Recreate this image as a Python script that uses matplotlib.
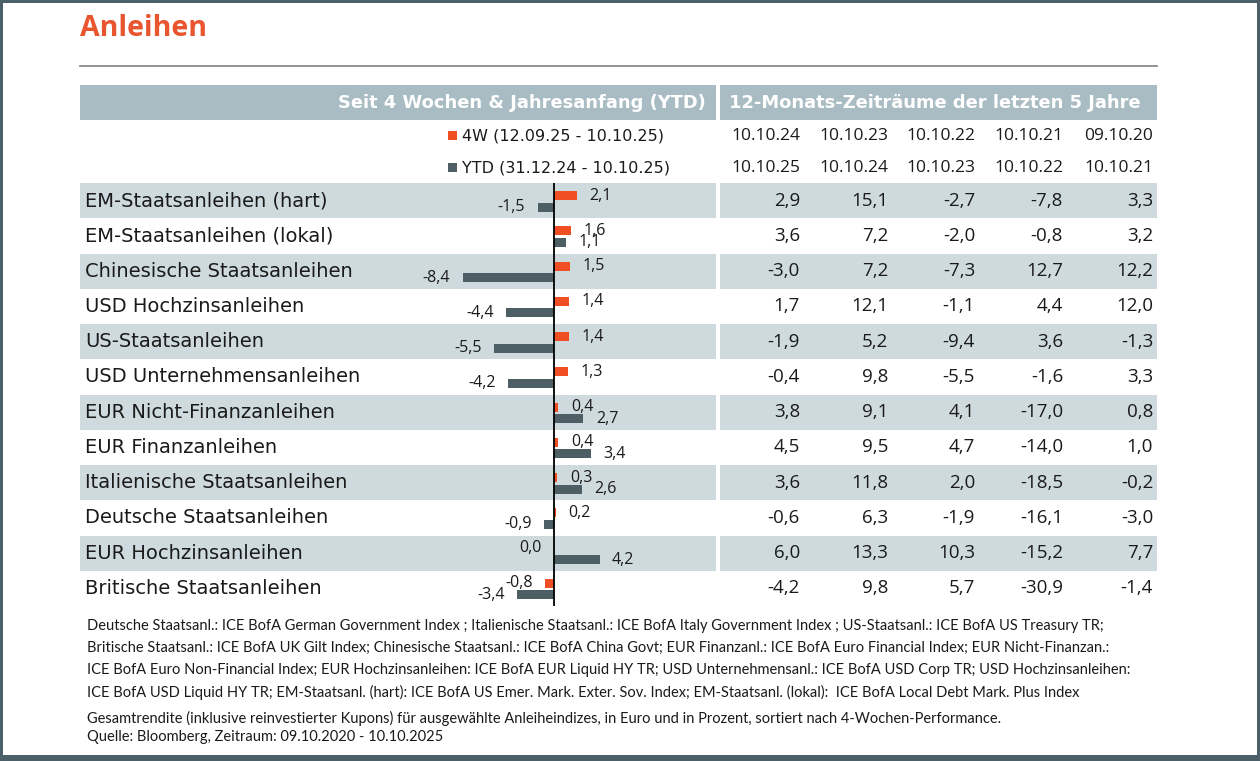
import matplotlib
matplotlib.use("Agg")
import matplotlib.pyplot as plt
from matplotlib.patches import Rectangle

# ---------------- data ----------------
categories = ["EM-Staatsanleihen (hart)", "EM-Staatsanleihen (lokal)",
              "Chinesische Staatsanleihen", "USD Hochzinsanleihen",
              "US-Staatsanleihen", "USD Unternehmensanleihen",
              "EUR Nicht-Finanzanleihen", "EUR Finanzanleihen",
              "Italienische Staatsanleihen", "Deutsche Staatsanleihen",
              "EUR Hochzinsanleihen", "Britische Staatsanleihen"]
w4 = [2.1, 1.6, 1.5, 1.4, 1.4, 1.3, 0.4, 0.4, 0.3, 0.2, 0.0, -0.8]
ytd = [-1.5, 1.1, -8.4, -4.4, -5.5, -4.2, 2.7, 3.4, 2.6, -0.9, 4.2, -3.4]
period_start = ["10.10.24", "10.10.23", "10.10.22", "10.10.21", "09.10.20"]
period_end = ["10.10.25", "10.10.24", "10.10.23", "10.10.22", "10.10.21"]
p1 = [2.9, 3.6, -3.0, 1.7, -1.9, -0.4, 3.8, 4.5, 3.6, -0.6, 6.0, -4.2]
p2 = [15.1, 7.2, 7.2, 12.1, 5.2, 9.8, 9.1, 9.5, 11.8, 6.3, 13.3, 9.8]
p3 = [-2.7, -2.0, -7.3, -1.1, -9.4, -5.5, 4.1, 4.7, 2.0, -1.9, 10.3, 5.7]
p4 = [-7.8, -0.8, 12.7, 4.4, 3.6, -1.6, -17.0, -14.0, -18.5, -16.1, -15.2, -30.9]
p5 = [3.3, 3.2, 12.2, 12.0, -1.3, 3.3, 0.8, 1.0, -0.2, -3.0, 7.7, -1.4]
periods = [p1, p2, p3, p4, p5]
legend_4w = "4W (12.09.25 - 10.10.25)"
legend_ytd = "YTD (31.12.24 - 10.10.25)"
title = "Anleihen"
header_left = "Seit 4 Wochen & Jahresanfang (YTD)"
header_right = "12-Monats-Zeiträume der letzten 5 Jahre"
footnotes = [
    "Deutsche Staatsanl.: ICE BofA German Government Index ; Italienische Staatsanl.: ICE BofA Italy Government Index ; US-Staatsanl.: ICE BofA US Treasury TR;",
    "Britische Staatsanl.: ICE BofA UK Gilt Index; Chinesische Staatsanl.: ICE BofA China Govt; EUR Finanzanl.: ICE BofA Euro Financial Index; EUR Nicht-Finanzan.:",
    "ICE BofA Euro Non-Financial Index; EUR Hochzinsanleihen: ICE BofA EUR Liquid HY TR; USD Unternehmensanl.: ICE BofA USD Corp TR; USD Hochzinsanleihen:",
    "ICE BofA USD Liquid HY TR; EM-Staatsanl. (hart): ICE BofA US Emer. Mark. Exter. Sov. Index; EM-Staatsanl. (lokal):  ICE BofA Local Debt Mark. Plus Index",
]
note1 = "Gesamtrendite (inklusive reinvestierter Kupons) für ausgewählte Anleiheindizes, in Euro und in Prozent, sortiert nach 4-Wochen-Performance."
note2 = "Quelle: Bloomberg, Zeitraum: 09.10.2020 - 10.10.2025"

# ---------------- style ----------------
W, H = 1260, 761
ORANGE = "#f04e23"
TITLE_C = "#e8552f"
SLATE = "#4d5e65"
BORDER = "#4b6069"
HEAD_BG = "#a9bcc3"
ROW_BG = "#cfdadf"
TXT = "#1a1a1a"
LBL = "DejaVu Sans"
NUM = "Open Sans"
FOOT = "Lato"

fig = plt.figure(figsize=(W / 100, H / 100), dpi=100)
fig.patch.set_facecolor(BORDER)
ax = fig.add_axes([0, 0, 1, 1])
ax.set_xlim(0, W)
ax.set_ylim(H, 0)
ax.axis("off")

ax.add_patch(Rectangle((3, 3), W - 6, 752, facecolor="white", edgecolor="none", zorder=0))

# title & rule
ax.text(80, 29, title, color=TITLE_C, fontsize=20.5, fontweight="bold",
        family=NUM, va="center", ha="left")
ax.plot([80, 1157], [66, 66], color="#8a8a8a", lw=1.3)

# header
L0, L1, R0, R1 = 80, 716, 720, 1157
ax.add_patch(Rectangle((L0, 85), L1 - L0, 35, facecolor=HEAD_BG, edgecolor="none", zorder=1))
ax.add_patch(Rectangle((R0, 85), R1 - R0, 35, facecolor=HEAD_BG, edgecolor="none", zorder=1))
ax.text(706, 103, header_left, color="white", fontsize=12.9, fontweight="bold",
        family=LBL, ha="right", va="center", zorder=2)
ax.text(729, 103, header_right, color="white", fontsize=12.9, fontweight="bold",
        family=LBL, ha="left", va="center", zorder=2)

# legend
ax.add_patch(Rectangle((448, 131), 9, 9, facecolor=ORANGE, edgecolor="none"))
ax.add_patch(Rectangle((448, 163), 9, 9, facecolor=SLATE, edgecolor="none"))
ax.text(462, 136, legend_4w, fontsize=11.5, family=LBL, color=TXT, va="center", ha="left")
ax.text(462, 168, legend_ytd, fontsize=11.5, family=LBL, color=TXT, va="center", ha="left")

col_right = [800, 888, 975, 1063, 1153]
for x, s, e in zip(col_right, period_start, period_end):
    ax.text(x, 136, s, fontsize=12.5, family=NUM, color=TXT, va="center", ha="right")
    ax.text(x, 168, e, fontsize=12.5, family=NUM, color=TXT, va="center", ha="right")

# rows
TOP = 183
RH = 35.25
n = len(categories)


def fmt(v):
    return f"{v:.1f}".replace(".", ",")


for i, cat in enumerate(categories):
    y0 = TOP + i * RH
    yc = y0 + RH / 2
    if i % 2 == 0:
        ax.add_patch(Rectangle((L0, y0), L1 - L0, RH, facecolor=ROW_BG, edgecolor="none", zorder=1))
        ax.add_patch(Rectangle((R0, y0), R1 - R0, RH, facecolor=ROW_BG, edgecolor="none", zorder=1))
    ax.text(85, yc, cat, fontsize=14, family=LBL, color=TXT, va="center", ha="left", zorder=2)
    for x, vals in zip(col_right, periods):
        ax.text(x, yc, fmt(vals[i]), fontsize=13.5, family=NUM, color=TXT,
                va="center", ha="right", zorder=2)

# bar axes
ZERO = 554
PX = 10.85
bx_left, bx_right = 420, 716
bx = fig.add_axes([bx_left / W, 1 - (TOP + n * RH) / H, (bx_right - bx_left) / W, n * RH / H])
bx.set_xlim((bx_left - ZERO) / PX, (bx_right - ZERO) / PX)
bx.set_ylim(n, 0)
bx.patch.set_alpha(0)
bx.axis("off")

rows = [i + 0.5 for i in range(n)]
off4 = -5 / RH
offy = 6.5 / RH
bh = 9 / RH
bx.barh([r + off4 for r in rows], w4, height=bh, color=ORANGE, zorder=3)
bx.barh([r + offy for r in rows], ytd, height=bh, color=SLATE, zorder=3)
bx.axvline(0, ymin=0, ymax=1, color="black", lw=1.3, zorder=4)


def label(v, y):
    if v > 0:
        bx.annotate(fmt(v), (v, y), xytext=(9, 0), textcoords="offset points",
                    ha="left", va="center", fontsize=11.5, family=NUM, color=TXT)
    else:
        bx.annotate(fmt(v), (v, y), xytext=(-9, 0), textcoords="offset points",
                    ha="right", va="center", fontsize=11.5, family=NUM, color=TXT)


for r, v in zip(rows, w4):
    label(v, r + off4)
for r, v in zip(rows, ytd):
    label(v, r + offy)

# footnotes
for k, line in enumerate(footnotes):
    ax.text(87, 626 + 22 * k, line, fontsize=10.5, family=FOOT, color=TXT, va="center", ha="left")
ax.text(87, 718, note1, fontsize=10.5, family=FOOT, color=TXT, va="center", ha="left")
ax.text(87, 737, note2, fontsize=10.5, family=FOOT, color=TXT, va="center", ha="left")

fig.savefig("out.png", dpi=100, facecolor=fig.get_facecolor())
